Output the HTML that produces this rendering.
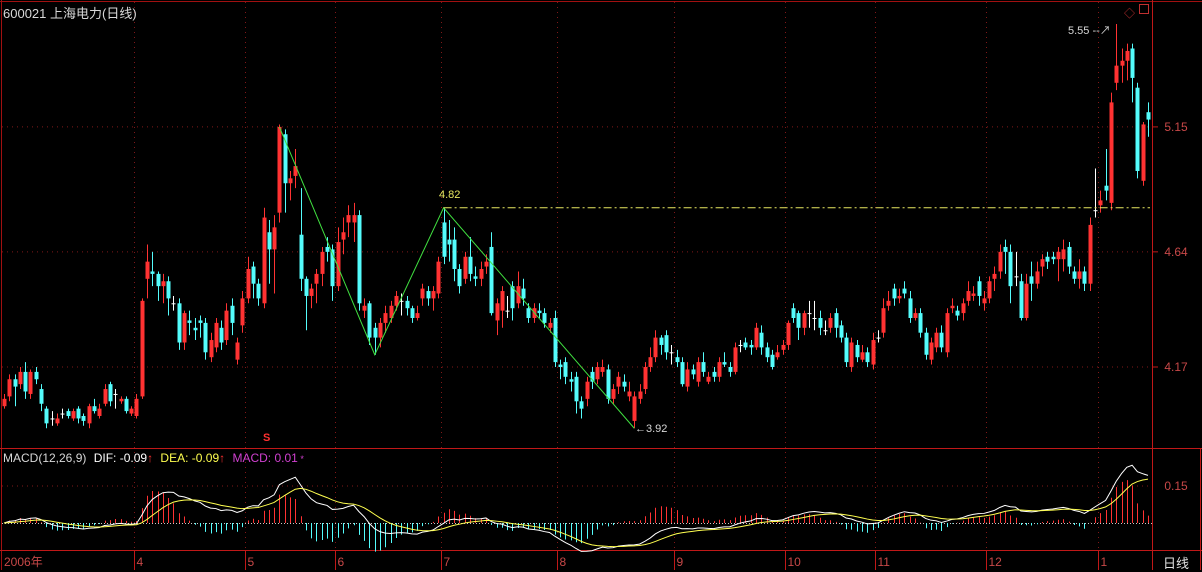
<!DOCTYPE html>
<html><head><meta charset="utf-8"><style>
html,body{margin:0;padding:0;background:#000;}
svg{display:block;font-family:"Liberation Sans","Noto Sans CJK SC",sans-serif;}
</style></head><body>
<svg id="c" width="1202" height="570" viewBox="0 0 1202 570">
<rect x="0" y="0" width="1202" height="570" fill="#000"/>
<g id="frame">
<line x1="0" y1="1.5" x2="1202" y2="1.5" stroke="#a01010"/>
<line x1="1.5" y1="0" x2="1.5" y2="570" stroke="#a01010"/>
<line x1="1152.5" y1="0" x2="1152.5" y2="570" stroke="#c01818"/>
<line x1="0" y1="448.5" x2="1202" y2="448.5" stroke="#c01818"/>
<line x1="0" y1="550.5" x2="1202" y2="550.5" stroke="#c01818"/>
<line x1="1200.5" y1="448" x2="1200.5" y2="570" stroke="#c01818"/>
</g>
<g id="grid"></g>
<g id="macd"></g>
<g id="candles"></g>
<g id="ann"></g>
<g id="labels"></g>
</svg>
<script>
const opens=[4.01,4.05,4.12,4.10,4.15,4.06,4.15,4.08,4.00,3.96,3.94,3.98,3.99,3.96,4.00,3.97,3.94,4.01,3.97,4.02,4.10,4.06,4.03,4.04,3.98,3.97,4.05,4.53,4.56,4.55,4.50,4.52,4.43,4.43,4.27,4.36,4.33,4.36,4.35,4.21,4.25,4.33,4.28,4.42,4.20,4.34,4.45,4.58,4.51,4.43,4.72,4.65,4.80,5.12,4.92,4.95,4.71,4.53,4.46,4.51,4.55,4.66,4.65,4.50,4.69,4.76,4.76,4.79,4.40,4.43,4.33,4.29,4.35,4.37,4.42,4.44,4.44,4.41,4.37,4.45,4.48,4.45,4.47,4.76,4.69,4.69,4.57,4.53,4.62,4.54,4.53,4.58,4.66,4.36,4.40,4.40,4.50,4.43,4.49,4.41,4.37,4.40,4.39,4.33,4.37,4.18,4.19,4.12,4.13,4.03,4.04,4.15,4.12,4.15,4.16,4.04,4.09,4.11,4.05,3.95,4.04,4.08,4.17,4.21,4.29,4.30,4.23,4.21,4.19,4.09,4.16,4.11,4.19,4.11,4.15,4.13,4.19,4.17,4.15,4.26,4.27,4.26,4.25,4.31,4.25,4.22,4.21,4.24,4.26,4.41,4.39,4.33,4.39,4.37,4.37,4.32,4.33,4.39,4.34,4.29,4.17,4.26,4.20,4.23,4.18,4.29,4.31,4.42,4.49,4.45,4.49,4.45,4.37,4.39,4.31,4.20,4.25,4.31,4.23,4.41,4.40,4.39,4.44,4.46,4.52,4.43,4.45,4.53,4.56,4.66,4.64,4.54,4.52,4.37,4.54,4.51,4.58,4.62,4.62,4.61,4.61,4.66,4.56,4.53,4.56,4.51,4.81,4.83,4.91,4.84,5.33,5.40,5.42,5.47,5.31,4.93,5.21];
const closes=[4.04,4.12,4.09,4.15,4.07,4.15,4.12,4.02,3.94,3.96,3.96,3.98,3.97,3.99,3.96,3.95,4.01,3.99,4.00,4.08,4.03,4.06,4.04,3.99,4.00,4.04,4.44,4.60,4.55,4.50,4.52,4.45,4.43,4.27,4.39,4.35,4.32,4.35,4.23,4.28,4.35,4.27,4.40,4.35,4.27,4.45,4.57,4.51,4.45,4.78,4.65,4.74,5.15,4.92,4.94,4.99,4.53,4.46,4.49,4.55,4.64,4.64,4.50,4.68,4.72,4.79,4.79,4.43,4.42,4.29,4.29,4.35,4.39,4.42,4.46,4.44,4.41,4.37,4.39,4.49,4.45,4.48,4.60,4.62,4.67,4.57,4.50,4.62,4.55,4.53,4.57,4.60,4.39,4.43,4.48,4.40,4.41,4.50,4.45,4.37,4.41,4.39,4.35,4.35,4.19,4.17,4.13,4.11,4.03,4.00,4.11,4.11,4.17,4.17,4.04,4.08,4.13,4.09,4.07,4.05,4.07,4.17,4.21,4.29,4.26,4.23,4.23,4.19,4.10,4.16,4.14,4.19,4.15,4.13,4.13,4.19,4.18,4.15,4.25,4.26,4.25,4.25,4.33,4.25,4.21,4.17,4.23,4.26,4.35,4.37,4.33,4.39,4.39,4.37,4.33,4.32,4.37,4.33,4.29,4.19,4.27,4.21,4.23,4.19,4.28,4.29,4.41,4.44,4.45,4.46,4.47,4.37,4.39,4.31,4.22,4.27,4.31,4.25,4.39,4.42,4.38,4.43,4.48,4.47,4.46,4.45,4.52,4.55,4.64,4.64,4.50,4.54,4.37,4.51,4.51,4.56,4.61,4.60,4.61,4.64,4.65,4.58,4.53,4.56,4.51,4.75,4.81,4.85,4.89,5.25,5.40,5.42,5.46,5.35,4.97,5.16,5.18];
const highs=[4.06,4.14,4.14,4.17,4.19,4.16,4.17,4.10,4.01,3.99,3.98,4.00,4.00,4.00,4.01,3.98,4.02,4.04,4.02,4.10,4.11,4.08,4.05,4.05,4.01,4.06,4.45,4.67,4.64,4.56,4.55,4.54,4.46,4.45,4.40,4.40,4.37,4.38,4.37,4.31,4.37,4.36,4.43,4.45,4.29,4.48,4.62,4.60,4.53,4.82,4.77,4.79,5.16,5.14,4.97,5.06,4.90,4.54,4.51,4.57,4.66,4.70,4.67,4.74,4.78,4.83,4.84,4.81,4.45,4.44,4.35,4.37,4.42,4.44,4.48,4.47,4.46,4.42,4.42,4.51,4.50,4.50,4.62,4.82,4.77,4.74,4.59,4.64,4.70,4.58,4.60,4.63,4.72,4.45,4.50,4.46,4.52,4.56,4.53,4.43,4.43,4.43,4.41,4.37,4.40,4.20,4.21,4.15,4.15,4.05,4.13,4.17,4.19,4.20,4.18,4.10,4.15,4.14,4.11,4.07,4.10,4.19,4.25,4.32,4.30,4.32,4.26,4.24,4.21,4.19,4.18,4.21,4.23,4.15,4.17,4.21,4.23,4.19,4.27,4.28,4.29,4.28,4.35,4.34,4.27,4.24,4.26,4.28,4.36,4.43,4.40,4.40,4.44,4.44,4.40,4.36,4.39,4.41,4.36,4.31,4.29,4.28,4.26,4.25,4.31,4.32,4.45,4.48,4.51,4.49,4.52,4.48,4.41,4.41,4.33,4.29,4.33,4.34,4.41,4.45,4.42,4.45,4.52,4.50,4.54,4.48,4.54,4.58,4.67,4.69,4.67,4.64,4.55,4.55,4.60,4.60,4.63,4.64,4.64,4.66,4.69,4.68,4.58,4.61,4.58,4.78,4.98,4.89,5.06,5.29,5.57,5.47,5.49,5.49,5.33,5.17,5.25];
const lows=[4.00,4.03,4.01,4.08,4.04,4.04,4.10,3.99,3.92,3.93,3.93,3.96,3.96,3.95,3.94,3.93,3.92,3.98,3.96,4.01,4.01,4.00,4.02,3.98,3.97,3.96,4.04,4.45,4.50,4.44,4.43,4.38,4.40,4.24,4.24,4.30,4.28,4.29,4.20,4.19,4.23,4.24,4.26,4.30,4.18,4.31,4.43,4.45,4.42,4.41,4.51,4.47,4.76,4.80,4.85,4.90,4.48,4.32,4.41,4.43,4.50,4.60,4.44,4.48,4.63,4.70,4.68,4.40,4.37,4.26,4.22,4.25,4.31,4.35,4.40,4.38,4.38,4.35,4.36,4.42,4.42,4.40,4.45,4.59,4.60,4.52,4.47,4.51,4.52,4.50,4.50,4.55,4.38,4.30,4.33,4.37,4.36,4.41,4.42,4.35,4.35,4.37,4.33,4.31,4.17,4.12,4.10,4.07,3.98,3.96,4.01,4.08,4.10,4.13,4.02,4.02,4.06,4.07,4.03,3.92,4.02,4.06,4.15,4.19,4.22,4.20,4.18,4.17,4.09,4.07,4.12,4.09,4.13,4.10,4.11,4.11,4.17,4.13,4.14,4.23,4.24,4.22,4.24,4.22,4.19,4.16,4.20,4.22,4.24,4.35,4.28,4.30,4.33,4.32,4.30,4.30,4.31,4.29,4.27,4.17,4.15,4.19,4.19,4.17,4.16,4.27,4.29,4.40,4.42,4.43,4.45,4.35,4.36,4.29,4.20,4.18,4.23,4.23,4.21,4.39,4.36,4.36,4.42,4.44,4.42,4.40,4.43,4.48,4.53,4.55,4.43,4.50,4.36,4.36,4.44,4.49,4.54,4.57,4.59,4.52,4.56,4.55,4.51,4.49,4.48,4.48,4.78,4.80,4.85,4.81,5.30,5.33,5.34,5.25,4.94,4.91,5.11];
const priceTicks=[5.15,4.64,4.17];
const macdTicks=[0.15];
const monthLabels=["2006年","4","5","6","7","8","9","10","11","12","1"];
const monthStartIdx=[0,25,46,63,83,105,127,148,165,186,207];
const zzIdx=[52,70,83,119];
const zzVal=[5.15,4.22,4.82,3.92];

const NS="http://www.w3.org/2000/svg";
function mk(tag,attrs,parent){const e=document.createElementNS(NS,tag);for(const k in attrs)e.setAttribute(k,attrs[k]);parent.appendChild(e);return e;}
const N=closes.length;
const X0=4,X1=1148;
const step=(X1-X0)/(N-1);
function xS(i){return X0+i*step;}
function yP(p){return 367-(p-4.17)*245;}
function yM(v){return 523-v*247;}

const grid=document.getElementById('grid');
const labels=document.getElementById('labels');
priceTicks.forEach(function(t){
  const l=mk('line',{x1:2,y1:yP(t),x2:1152,y2:yP(t),stroke:'#801818','stroke-dasharray':'1 4'},grid);
  
  
  const tx=mk('text',{x:1176,y:yP(t)+4,fill:'#c84848','font-size':12,'text-anchor':'middle'},labels);
  tx.textContent=t.toFixed(2);
  
  
  const tk=mk('line',{x1:1152,y1:yP(t),x2:1158,y2:yP(t),stroke:'#c01818'},grid);
  
  
});
macdTicks.forEach(function(t){
  const l=mk('line',{x1:2,y1:yM(t),x2:1152,y2:yM(t),stroke:'#801818','stroke-dasharray':'1 4'},grid);
  
  
  const tx=mk('text',{x:1176,y:yM(t)+4,fill:'#c84848','font-size':12,'text-anchor':'middle'},labels);
  tx.textContent=t.toFixed(2);
  
  
});
monthStartIdx.forEach(function(idx,k){
  const x=k===0?2:Math.round(xS(idx)-step/2)+0.5;
  if(k>0){
    const l=mk('line',{x1:x,y1:2,x2:x,y2:550,stroke:'#801818','stroke-dasharray':'1 4'},grid);
    
    
    const t=mk('line',{x1:x,y1:550,x2:x,y2:570,stroke:'#c01818'},grid);
    
    
  }
  const tx=mk('text',{x:x+2,y:566,fill:'#c84848','font-size':12},labels);
  tx.textContent=monthLabels[k];
  
  
});

const cg=document.getElementById('candles');
for(let i=0;i<N;i++){
  const o=opens[i],c=closes[i],h=highs[i],lo=lows[i];
  const x=Math.round(xS(i));
  let col=c>o?'#ff3232':(c<o?'#54fcfc':'#ffffff');
  const g=mk('g',{},cg);
  
  
  mk('line',{x1:x+0.5,y1:yP(h),x2:x+0.5,y2:yP(lo),stroke:col,'stroke-width':1},g);
  const top=Math.min(yP(o),yP(c)),bh=Math.max(1,Math.abs(yP(o)-yP(c)));
  mk('rect',{x:x-1.5,y:top,width:4,height:bh,fill:col},g);
}

const mg=document.getElementById('macd');
let e12=closes[0],e26=closes[0],dea=0;const dif=[],deaA=[],bar=[];
for(let i=0;i<N;i++){
  e12=e12*11/13+closes[i]*2/13;e26=e26*25/27+closes[i]*2/27;
  const d=e12-e26;dea=dea*8/10+d*2/10;dif.push(d);deaA.push(dea);bar.push(2*(d-dea));
}
const zl=mk('line',{x1:2,y1:523.5,x2:1152,y2:523.5,stroke:'#c8c8c8','stroke-dasharray':'1 2'},mg);


for(let i=0;i<N;i++){
  const x=Math.round(xS(i))+0.5;
  const b=mk('line',{x1:x,y1:523,x2:x,y2:yM(bar[i]),stroke:bar[i]>=0?'#ff3232':'#54fcfc'},mg);
  
  
}
const difP=mk('polyline',{points:dif.map((v,i)=>xS(i)+','+yM(v)).join(' '),fill:'none',stroke:'#ffffff','stroke-width':1},mg);


const deaP=mk('polyline',{points:deaA.map((v,i)=>xS(i)+','+yM(v)).join(' '),fill:'none',stroke:'#ffff50','stroke-width':1},mg);



const ag=document.getElementById('ann');
const zz=mk('polyline',{points:zzIdx.map((i,k)=>xS(i)+','+yP(zzVal[k])).join(' '),fill:'none',stroke:'#40e040','stroke-width':1},ag);


const hl=mk('line',{x1:xS(83),y1:yP(4.82),x2:1150,y2:yP(4.82),stroke:'#e8e860','stroke-dasharray':'8 3 2 3'},ag);


</script>
<div style="position:absolute;left:0;top:0;width:1202px;height:570px;pointer-events:none;font-family:'Liberation Sans','Noto Sans CJK SC',sans-serif;font-size:12px;">
<span style="position:absolute;left:3px;top:3px;color:#d8d8d8;font-size:13px;">600021 上海电力(日线)</span>
<span style="position:absolute;left:439px;top:189px;color:#e8e860;font-size:11px;">4.82</span>
<span style="position:absolute;left:635px;top:423px;color:#d8d8d8;font-size:11px;">←3.92</span>
<span style="position:absolute;left:1068px;top:22px;color:#d8d8d8;font-size:11px;">5.55 --↗</span>
<span style="position:absolute;left:1124px;top:5px;color:#c03030;font-size:11px;">◇</span>
<span style="position:absolute;left:1139px;top:4px;width:8px;height:8px;border:1px solid #c03030;"></span>
<span style="position:absolute;left:263px;top:432px;color:#ff3030;font-size:11px;font-weight:bold;">S</span>
<div style="position:absolute;left:3px;top:451px;white-space:nowrap;">
<span style="color:#d8d8d8;">MACD(12,26,9)</span>
<span style="color:#ffffff;margin-left:4px;">DIF: -0.09</span><span style="color:#ff3030;">↑</span>
<span style="color:#ffff50;margin-left:4px;">DEA: -0.09</span><span style="color:#ff3030;">↑</span>
<span style="color:#d040d0;margin-left:4px;">MACD: 0.01</span><span style="color:#d040d0;font-size:9px;"> *</span>
</div>
<span style="position:absolute;left:1163px;top:553px;color:#e0e0e0;font-size:13px;">日线</span>
</div>
</body></html>
